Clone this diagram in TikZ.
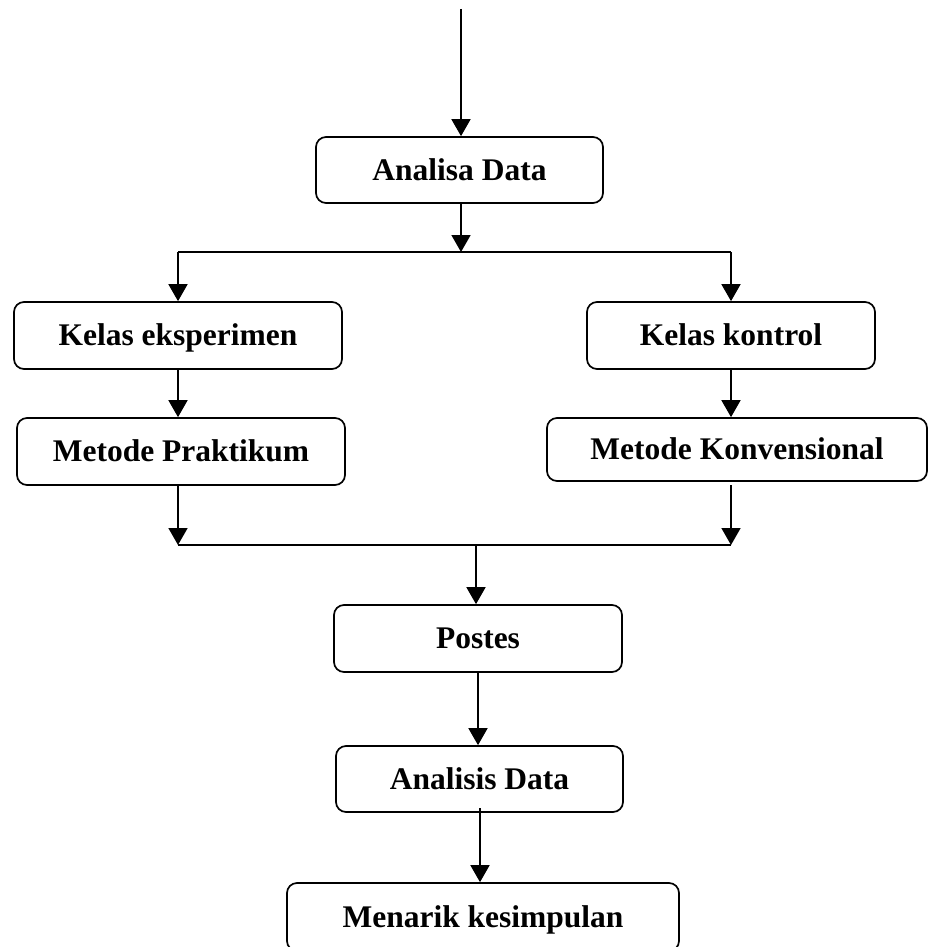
\documentclass[tikz,border=0pt]{standalone}
\usepackage{fontspec}
\setmainfont{Liberation Serif}
\usetikzlibrary{arrows.meta,calc}
\begin{document}
\begin{tikzpicture}[x=1pt,y=-1pt,
  box/.style={draw,line width=1.7pt,rounded corners=10pt,inner sep=0pt,
    font=\fontsize{31.5}{36}\selectfont\bfseries,text height=21pt,text depth=1pt},
  conn/.style={line width=1.7pt},
  arr/.style={line width=1.7pt,-{Triangle[length=17pt,width=19pt]}}]
\useasboundingbox (0,0) rectangle (929,947);
\node[box,minimum width=287pt,minimum height=66pt] (ad) at (459.5,170) {Analisa Data};
\node[box,minimum width=328pt,minimum height=67pt] (ke) at (178,335.5) {Kelas eksperimen};
\node[box,minimum width=288pt,minimum height=67pt] (kk) at (731,335.5) {Kelas kontrol};
\node[box,minimum width=328pt,minimum height=67pt] (mp) at (181,451.5) {Metode Praktikum};
\node[box,minimum width=380pt,minimum height=63pt] (mk) at (737,449.5) {Metode Konvensional};
\node[box,minimum width=288pt,minimum height=67pt] (po) at (478,638.5) {Postes};
\node[box,minimum width=287pt,minimum height=66pt] (an) at (479.5,779) {Analisis Data};
\node[box,minimum width=392pt,minimum height=68pt] (me) at (483,917) {Menarik kesimpulan};
\coordinate (top) at (461,9);
\coordinate (j1) at (461,252);
\coordinate (l1) at (178,252);
\coordinate (r1) at (731,252);
\coordinate (l2) at (178,545);
\coordinate (r2) at (731,545);
\coordinate (j2) at (476,545);
\coordinate (ms) at (731,485);
\coordinate (as) at (480,808);
\draw[arr] (top) -- (top |- ad.north);
\draw[arr] (ad.south -| j1) -- (j1);
\draw[conn] (l1) -- (r1);
\draw[arr] (l1) -- (l1 |- ke.north);
\draw[arr] (r1) -- (r1 |- kk.north);
\draw[arr] (ke.south -| l1) -- (l1 |- mp.north);
\draw[arr] (kk.south -| r1) -- (r1 |- mk.north);
\draw[arr] (mp.south -| l1) -- (l2);
\draw[arr] (ms) -- (r2);
\draw[conn] (l2) -- (r2);
\draw[arr] (j2) -- (j2 |- po.north);
\draw[arr] (po.south) -- (po.south |- an.north);
\draw[arr] (as) -- (as |- me.north);
\end{tikzpicture}
\end{document}
